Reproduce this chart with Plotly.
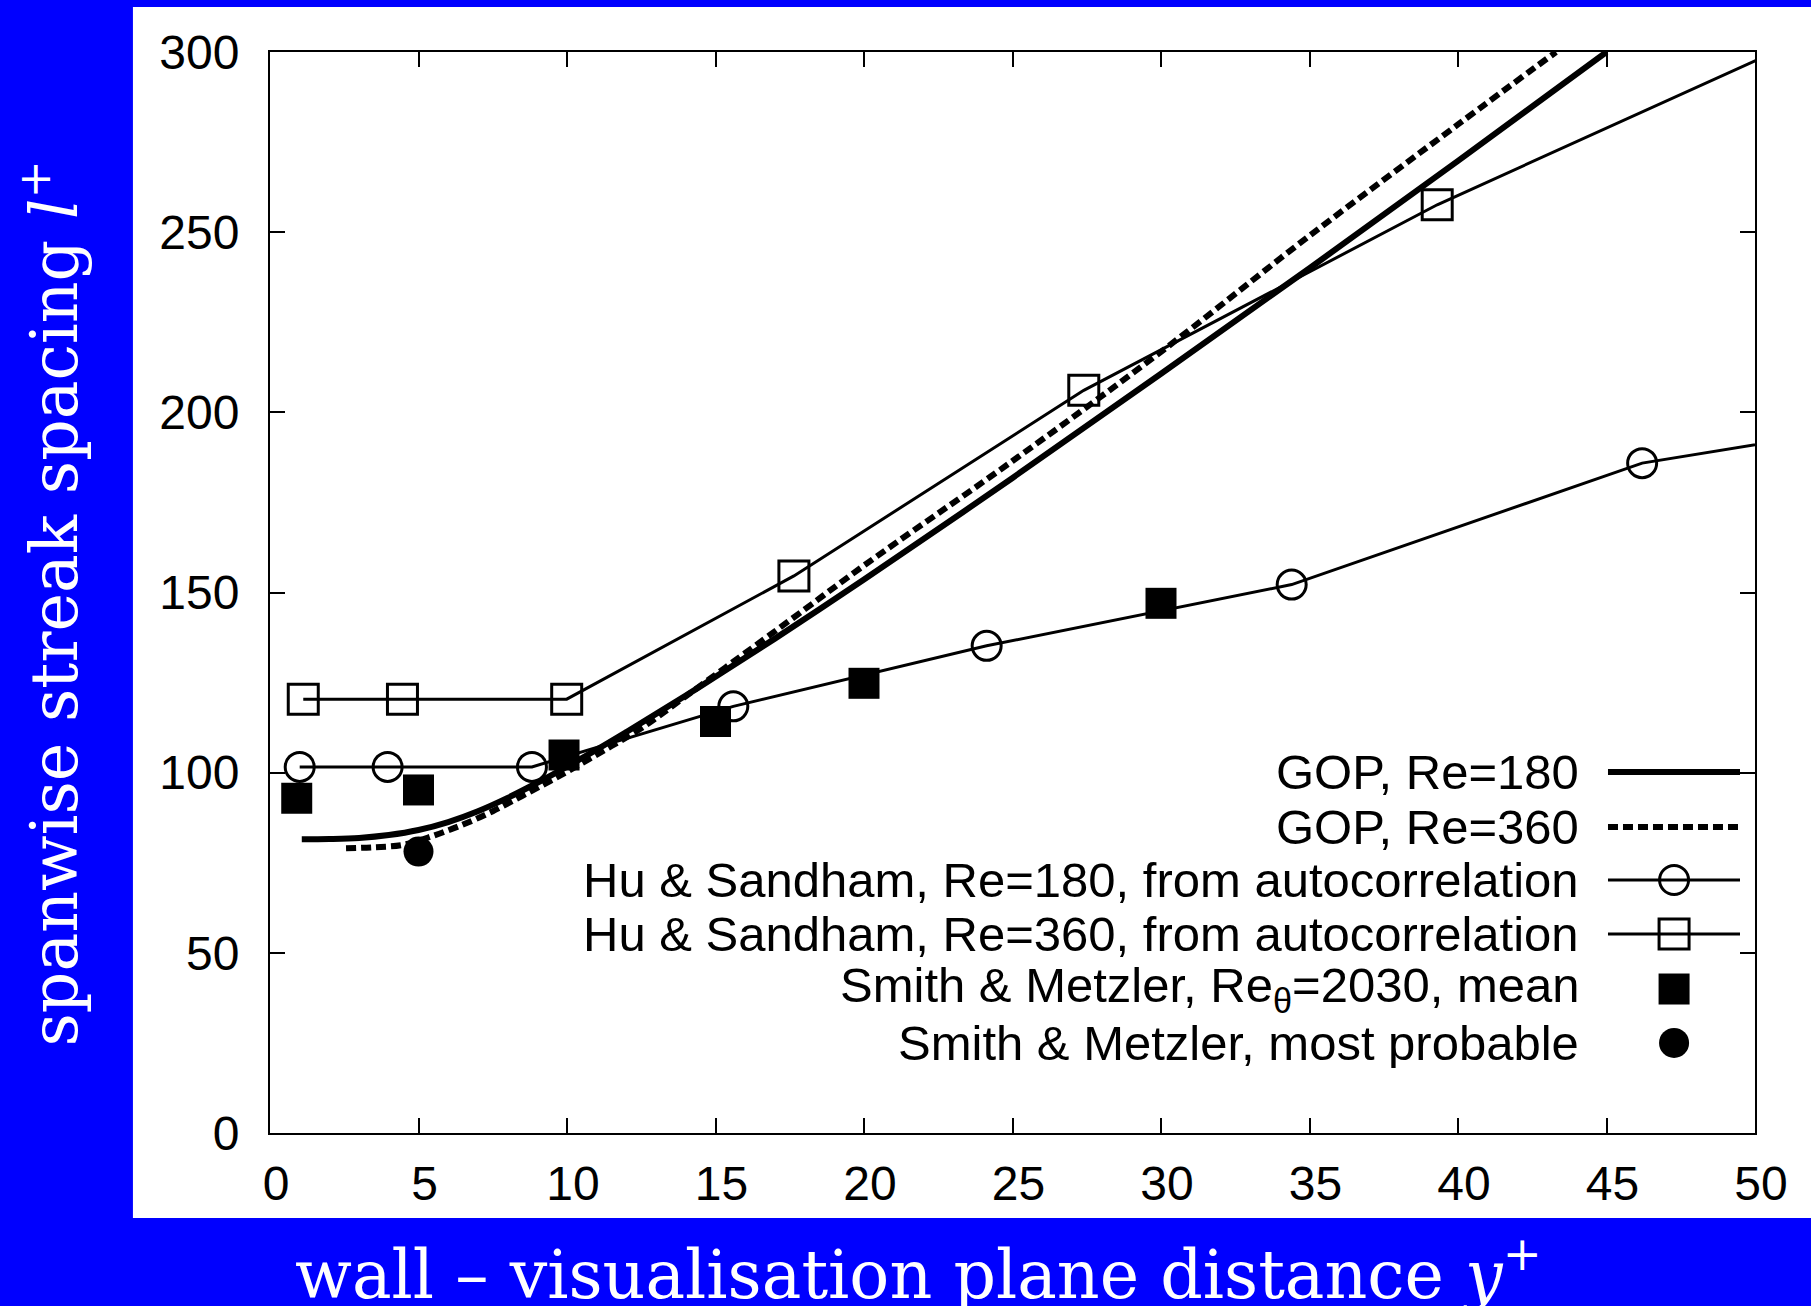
import plotly.graph_objects as go

# ---- data -------------------------------------------------------------
# GOP model curves (spanwise streak spacing vs. wall distance)
yplus_gop180 = [1.07, 2, 3, 4, 5, 6, 7, 8, 9, 10, 11, 12, 13, 14, 15, 17, 20, 25, 30, 35, 40, 45]
l_gop180 = [81.5, 81.6, 81.9, 82.7, 84.1, 86.3, 89.3, 93.0, 97.2, 101.7, 106.4, 111.3,
            116.3, 121.4, 126.6, 137.2, 153.6, 181.8, 210.7, 240.0, 269.8, 300.0]

yplus_gop360 = [2.56, 3.5, 4.5, 5.5, 6.5, 7.5, 8.5, 9.5, 10.5, 11.5, 12.5, 14, 16, 18, 20,
                25, 30, 35, 40, 43.3]
l_gop360 = [79.0, 79.3, 80.0, 82.5, 85.6, 89.3, 93.6, 98.0, 102.6, 107.4, 112.3, 121.2,
            133.2, 145.3, 157.5, 186.5, 216.8, 249.0, 279.9, 300.0]

# Hu & Sandham, from autocorrelation
yplus_hu180 = [1.0, 3.96, 8.82, 15.6, 24.13, 34.4, 46.2, 55.0]
l_hu180 = [101.6, 101.6, 101.6, 118.4, 135.2, 152.2, 185.9, 197.7]

yplus_hu360 = [1.12, 4.46, 9.99, 17.64, 27.4, 39.3, 54.0]
l_hu360 = [120.4, 120.4, 120.4, 154.6, 206.1, 257.6, 312.5]

# Smith & Metzler
yplus_sm_mean = [0.9, 5.0, 9.9, 15.0, 20.0, 30.0]
l_sm_mean = [92.9, 95.2, 104.9, 114.2, 124.8, 147.0]

yplus_sm_prob = [5.0]
l_sm_prob = [78.1]

x_ticks = [0, 5, 10, 15, 20, 25, 30, 35, 40, 45, 50]
y_ticks = [0, 50, 100, 150, 200, 250, 300]

legend_labels = [
    "GOP, Re=180",
    "GOP, Re=360",
    "Hu & Sandham, Re=180, from autocorrelation",
    "Hu & Sandham, Re=360, from autocorrelation",
    "Smith & Metzler, Re<sub>θ</sub>=2030, mean",
    "Smith & Metzler, most probable",
]

# ---- styling ----------------------------------------------------------
BLUE = "#0000FF"
TICK_FONT = dict(family="Liberation Sans, Arial, sans-serif", size=48, color="black")
KEY_FONT = dict(family="Liberation Sans, Arial, sans-serif", size=49, color="black")
XTITLE_FONT = dict(family="DejaVu Serif, serif", size=66.5, color="white")
YTITLE_FONT = dict(family="DejaVu Serif, serif", size=65, color="white")

fig = go.Figure()

fig.add_trace(go.Scatter(x=yplus_gop180, y=l_gop180, mode="lines",
                         line=dict(color="black", width=6, shape="spline")))
fig.add_trace(go.Scatter(x=yplus_gop360, y=l_gop360, mode="lines",
                         line=dict(color="black", width=6, dash="10px,5px", shape="spline")))
fig.add_trace(go.Scatter(x=yplus_hu180, y=l_hu180, mode="lines+markers",
                         line=dict(color="black", width=3),
                         marker=dict(symbol="circle-open", size=29, color="black",
                                     line=dict(width=3, color="black"))))
fig.add_trace(go.Scatter(x=yplus_hu360, y=l_hu360, mode="lines+markers",
                         line=dict(color="black", width=3),
                         marker=dict(symbol="square-open", size=30, color="black",
                                     line=dict(width=3, color="black"))))
fig.add_trace(go.Scatter(x=yplus_sm_mean, y=l_sm_mean, mode="markers",
                         marker=dict(symbol="square", size=31, color="black")))
fig.add_trace(go.Scatter(x=yplus_sm_prob, y=l_sm_prob, mode="markers",
                         marker=dict(symbol="circle", size=30, color="black")))

# ---- key (drawn on an overlay axis spanning the plot area, 0..1) -------
key_rows = [0.3339, 0.2831, 0.2340, 0.1841, 0.1332, 0.0833]
key_text_x = 0.8828
key_x0, key_xm, key_x1 = 0.9010, 0.9455, 0.9899

key_styles = [
    dict(line=dict(color="black", width=6), marker=None),
    dict(line=dict(color="black", width=6, dash="10px,5px"), marker=None),
    dict(line=dict(color="black", width=3),
         marker=dict(symbol="circle-open", size=29, color="black", line=dict(width=3, color="black"))),
    dict(line=dict(color="black", width=3),
         marker=dict(symbol="square-open", size=30, color="black", line=dict(width=3, color="black"))),
    dict(line=None, marker=dict(symbol="square", size=31, color="black")),
    dict(line=None, marker=dict(symbol="circle", size=30, color="black")),
]

for row_y, label, style in zip(key_rows, legend_labels, key_styles):
    if style["line"] is not None:
        fig.add_trace(go.Scatter(x=[key_x0, key_x1], y=[row_y, row_y], mode="lines",
                                 line=style["line"], xaxis="x2", yaxis="y2"))
    if style["marker"] is not None:
        fig.add_trace(go.Scatter(x=[key_xm], y=[row_y], mode="markers",
                                 marker=style["marker"], xaxis="x2", yaxis="y2"))
    fig.add_annotation(x=key_text_x, y=row_y, xref="paper", yref="paper",
                       text=label, showarrow=False, xanchor="right", yanchor="middle",
                       height=50, valign="middle", font=KEY_FONT)

# ---- axis titles --------------------------------------------------------
fig.add_annotation(x=0.437, y=-0.127, xref="paper", yref="paper",
                   text="wall – visualisation plane distance <i>y</i><sup>+</sup>",
                   showarrow=False, xanchor="center", yanchor="middle", font=XTITLE_FONT)
fig.add_annotation(x=-0.148, y=0.49, xref="paper", yref="paper",
                   text="spanwise streak spacing <i>l</i><sup>+</sup>", textangle=-90,
                   showarrow=False, xanchor="center", yanchor="middle", font=YTITLE_FONT)

# white panel behind the plot
fig.add_shape(type="rect", xref="paper", yref="paper", x0=-0.0923, x1=1.06,
              y0=-0.0786, y1=1.0416, fillcolor="white", line=dict(width=0), layer="below")

axis_common = dict(showline=True, linecolor="black", linewidth=2, mirror="ticks",
                   ticks="inside", ticklen=15, tickwidth=2, tickcolor="black",
                   showgrid=False, zeroline=False, tickfont=TICK_FONT)

fig.update_layout(
    width=1811, height=1306,
    margin=dict(l=270, r=56, t=52, b=173, pad=0),
    paper_bgcolor=BLUE, plot_bgcolor="white",
    showlegend=False,
    xaxis=dict(range=[0, 50], tickvals=x_ticks, ticklabelstandoff=7, ticklabelshift=6,
               **axis_common),
    yaxis=dict(range=[0, 300], tickvals=y_ticks, ticklabelstandoff=19, **axis_common),
    xaxis2=dict(range=[0, 1], overlaying="x", visible=False),
    yaxis2=dict(range=[0, 1], overlaying="y", visible=False),
)

fig.write_html("out.html")
